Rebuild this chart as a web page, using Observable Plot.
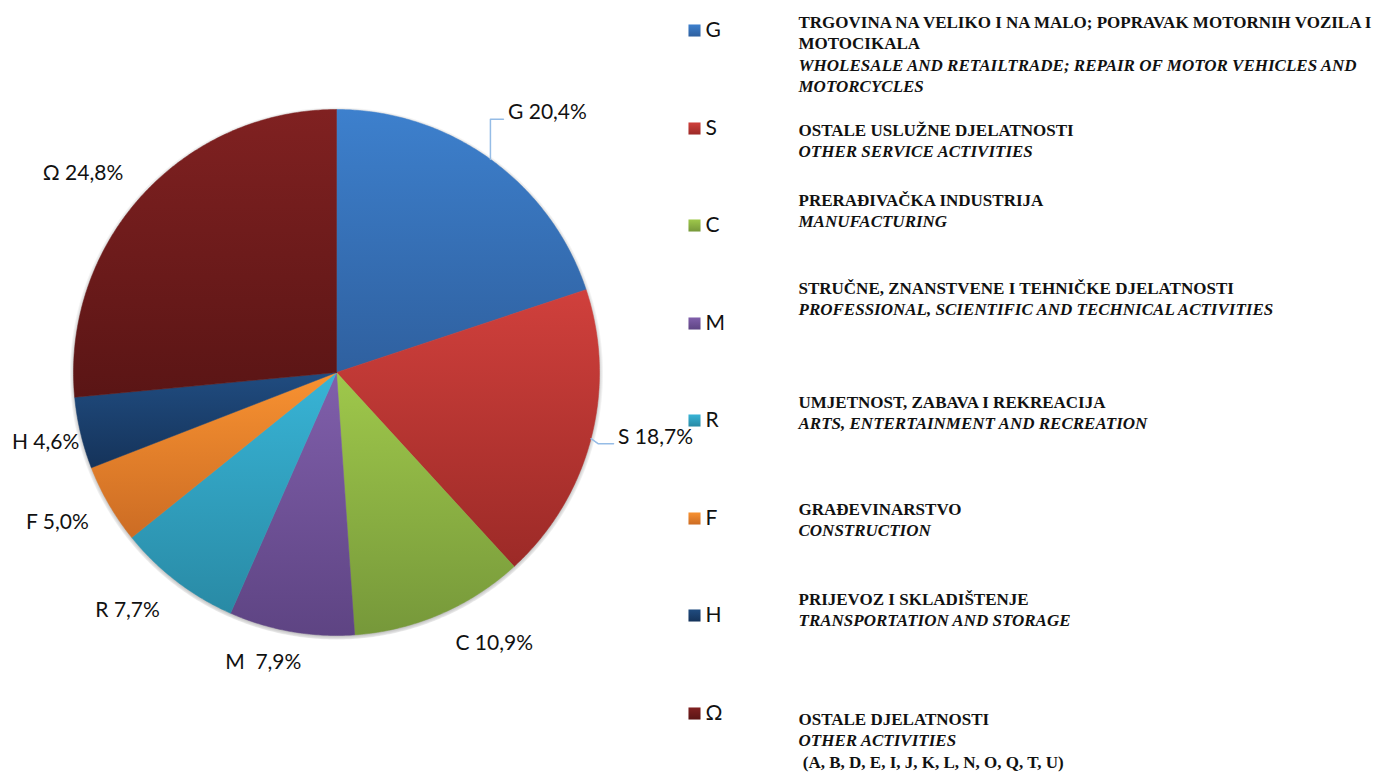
<!DOCTYPE html>
<html><head><meta charset="utf-8">
<script src="https://cdn.jsdelivr.net/npm/d3@7"></script>
<script src="https://cdn.jsdelivr.net/npm/@observablehq/plot@0.6"></script>
<style>body{margin:0;background:#fff} svg{white-space:pre}</style>
</head><body><div id="chart"></div>
<script>
// ---- data ----
const codes = ["G","S","C","M","R","F","H","Ω"];
// slice sizes as drawn in the picture (%)
const shares = [19.9, 18.3, 10.7, 7.7, 7.6, 4.9, 4.4, 26.5];
// printed labels
const pctLabels = ["20,4%","18,7%","10,9%","\u00a07,9%","7,7%","5,0%","4,6%","24,8%"];
const namesHr = [
  ["TRGOVINA NA VELIKO I NA MALO; POPRAVAK MOTORNIH VOZILA I","MOTOCIKALA"],
  ["OSTALE USLUŽNE DJELATNOSTI"],
  ["PRERAĐIVAČKA INDUSTRIJA"],
  ["STRUČNE, ZNANSTVENE I TEHNIČKE DJELATNOSTI"],
  ["UMJETNOST, ZABAVA I REKREACIJA"],
  ["GRAĐEVINARSTVO"],
  ["PRIJEVOZ I SKLADIŠTENJE"],
  ["OSTALE DJELATNOSTI"]
];
const namesEn = [
  ["WHOLESALE AND RETAILTRADE; REPAIR OF MOTOR VEHICLES AND","MOTORCYCLES"],
  ["OTHER SERVICE ACTIVITIES"],
  ["MANUFACTURING"],
  ["PROFESSIONAL, SCIENTIFIC AND TECHNICAL ACTIVITIES"],
  ["ARTS, ENTERTAINMENT AND RECREATION"],
  ["CONSTRUCTION"],
  ["TRANSPORTATION AND STORAGE"],
  ["OTHER ACTIVITIES"]
];
const namesExtra = ["","","","","","","","\u00a0(A, B, D, E, I, J, K, L, N, O, Q, T, U)"];

// ---- styles ----
const topColors = ["#3d80cd","#d0403c","#9fc84b","#805fab","#38b4d6","#f89231","#204c80","#802121"];
const botColors = ["#2f609f","#9c2a27","#76983a","#5e4483","#298aa5","#cc6c24","#15335a","#5a1515"];

// ---- layout ----
const W = 1374, H = 773, CX = 336, CY = 372, RAD = 263;
const labelNudge = [[57,-47],[64.5,-1],[54,29],[-28,31],[-49,29],[-51.5,18],[-35,9],[-59,-22]];
const legendY = [30,128,225,323,420,518,615,713];
const legendTextY = [22,130,200,288,402,509,599,719];
const lineGap = 21.3;

// ---- geometry from data ----
const total = d3.sum(shares);
let acc = 0;
const slices = codes.map((c, i) => {
  const a0 = acc / total * 2 * Math.PI; acc += shares[i];
  const a1 = acc / total * 2 * Math.PI;
  return {code: c, i, a0, a1, mid: (a0 + a1) / 2};
});
const pt = (a, r) => ({x: CX + r * Math.sin(a), y: CY - r * Math.cos(a)});
function slicePoly(s) {
  const pts = [{x: CX, y: CY}];
  const n = Math.max(2, Math.ceil((s.a1 - s.a0) / (Math.PI / 360)));
  for (let k = 0; k <= n; k++) pts.push(pt(s.a0 + (s.a1 - s.a0) * k / n, RAD));
  pts.push({x: CX, y: CY});
  return pts;
}
const circlePts = d3.range(0, 721).map(k => pt(k / 720 * 2 * Math.PI, RAD + 4));

const labels = slices.map(s => {
  const e = pt(s.mid, RAD);
  return {x: e.x + labelNudge[s.i][0], y: e.y + labelNudge[s.i][1], ex: e.x, ey: e.y,
          text: codes[s.i] + " " + pctLabels[s.i]};
});
const leaders = [];
{
  const g = labels[0];
  leaders.push({k: 0, x: g.ex, y: g.ey}, {k: 0, x: g.ex, y: g.y + 7}, {k: 0, x: g.x - 44, y: g.y + 7});
  const s = labels[1];
  leaders.push({k: 1, x: s.ex, y: s.ey}, {k: 1, x: s.ex + 7, y: s.y + 6}, {k: 1, x: s.x - 42, y: s.y + 6});
}

const legendSquares = codes.map((c, i) => ({i, x: 694, y: legendY[i], code: c}));
const hrLines = [], enLines = [], exLines = [];
codes.forEach((c, i) => {
  let row = 0;
  namesHr[i].forEach(t => hrLines.push({x: 798, y: legendTextY[i] + lineGap * row++, text: t}));
  namesEn[i].forEach(t => enLines.push({x: 798, y: legendTextY[i] + lineGap * row++, text: t}));
  if (namesExtra[i]) exLines.push({x: 798, y: legendTextY[i] + lineGap * row++, text: namesExtra[i]});
});

const serif = "'Liberation Serif', 'Times New Roman', serif";
const sans = "Lato, 'Open Sans', sans-serif";

const plot = Plot.plot({
  width: W, height: H, margin: 0,
  x: {domain: [0, W], range: [0, W], axis: null},
  y: {domain: [0, H], range: [0, H], axis: null},
  style: {background: "#fff", overflow: "visible"},
  marks: [
    Plot.line(circlePts, {x: "x", y: "y", fill: "url(#shade)", stroke: "none"}),
    ...slices.map(s => Plot.line(slicePoly(s), {x: "x", y: "y", fill: `url(#g${s.i})`, stroke: `url(#g${s.i})`, strokeWidth: 0.5, curve: "linear"})),
    Plot.line(leaders, {x: "x", y: "y", z: "k", stroke: "#95bce6", strokeWidth: 1.5}),
    Plot.text(labels, {x: "x", y: "y", text: "text", fontFamily: sans, fontSize: 21, fill: "#111", textAnchor: "middle"}),
    ...legendSquares.map(d => Plot.dot([d], {x: "x", y: "y", symbol: "square", r: 6.8, fill: `url(#g${d.i})`, stroke: "none"})),
    Plot.text(legendSquares, {x: d => d.x + 11, y: "y", text: "code", fontFamily: sans, fontSize: 21, fill: "#111", textAnchor: "start"}),
    Plot.text(hrLines, {x: "x", y: "y", text: "text", fontFamily: serif, fontSize: 17, fontWeight: "bold", fill: "#111", textAnchor: "start"}),
    Plot.text(enLines, {x: "x", y: "y", text: "text", fontFamily: serif, fontSize: 17, fontWeight: "bold", fontStyle: "italic", fill: "#111", textAnchor: "start"}),
    Plot.text(exLines, {x: "x", y: "y", text: "text", fontFamily: serif, fontSize: 17, fontWeight: "bold", fill: "#111", textAnchor: "start"})
  ]
});

// gradient definitions
const svg = d3.select(plot);
const defs = svg.insert("defs", ":first-child");
codes.forEach((c, i) => {
  const lg = defs.append("linearGradient").attr("id", `g${i}`).attr("x1", 0).attr("y1", 0).attr("x2", 0).attr("y2", 1);
  lg.append("stop").attr("offset", "0%").attr("stop-color", topColors[i]);
  lg.append("stop").attr("offset", "100%").attr("stop-color", botColors[i]);
});
const rg = defs.append("radialGradient").attr("id", "shade").attr("cx", 0.5).attr("cy", 0.503).attr("r", 0.5);
rg.append("stop").attr("offset", (RAD - 2) / (RAD + 4)).attr("stop-color", "#000").attr("stop-opacity", 0.28);
rg.append("stop").attr("offset", 1).attr("stop-color", "#000").attr("stop-opacity", 0);

document.getElementById("chart").append(plot);
</script></body></html>
